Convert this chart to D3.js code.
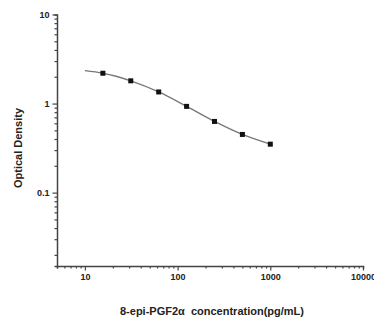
<!DOCTYPE html>
<html>
<head>
<meta charset="utf-8">
<script src="https://cdn.jsdelivr.net/npm/d3@7"></script>
<style>
  html, body { margin: 0; padding: 0; background: #fff; }
  svg { display: block; }
  text { font-family: "Liberation Sans", Arial, sans-serif; font-weight: bold; fill: #222; }
</style>
</head>
<body>
<svg id="chart" width="374" height="322"></svg>
<script>
// Standard concentrations (pg/mL) and measured optical densities
const concentrations = [15.63, 31.25, 62.5, 125, 250, 500, 1000];
const odValues = [2.19, 1.80, 1.35, 0.93, 0.63, 0.45, 0.35];

// Fitted standard curve, sampled at the same points plus the low end at 10 pg/mL
const fitX = [10, 15.63, 31.25, 62.5, 125, 250, 500, 1000];
const fitY = [2.34, 2.19, 1.80, 1.35, 0.93, 0.63, 0.45, 0.35];

const xTickLabels = ["10", "100", "1000", "10000"];
const yTickLabels = ["0.1", "1", "10"];

const svg = d3.select("#chart");
const plotLeft = 57, plotRight = 363, plotTop = 14.5, plotBottom = 266;

const x = d3.scaleLog().domain([5, 10000]).range([plotLeft, plotRight]);
const y = d3.scaleLog().domain([0.015, 10]).range([plotBottom, plotTop]);

const axisColor = "#444";
const isMajor = (v, labels) => labels.some(l => Math.abs(v / Number(l) - 1) < 1e-6);

// Minor tick values for each log axis
const xMinor = x.ticks().filter(v => !isMajor(v, xTickLabels));
const yMinor = y.ticks().filter(v => !isMajor(v, yTickLabels));

function styleAxis(g) {
  g.selectAll("path.domain").attr("stroke", axisColor).attr("stroke-width", 1.5);
  g.selectAll("line").attr("stroke", axisColor).attr("stroke-width", 1.2);
  g.selectAll("text").style("font-size", "9px")
    .style("font-family", "Liberation Sans, Arial, sans-serif")
    .style("font-weight", "bold").attr("fill", "#222");
}

// X axis
const gx = svg.append("g").attr("transform", `translate(0,${plotBottom})`);
gx.call(d3.axisBottom(x).tickValues(xMinor).tickSize(2.5).tickFormat(""));
const gxMajor = gx.append("g").call(d3.axisBottom(x).tickValues(xTickLabels.map(Number))
  .tickSize(4.5).tickFormat((d, i) => xTickLabels[i]).tickPadding(3));
gxMajor.select("path.domain").remove();
styleAxis(gx);

// Y axis
const gy = svg.append("g").attr("transform", `translate(${plotLeft},0)`);
gy.call(d3.axisLeft(y).tickValues(yMinor).tickSize(2.5).tickFormat(""));
const gyMajor = gy.append("g").call(d3.axisLeft(y).tickValues(yTickLabels.map(Number))
  .tickSize(4.5).tickFormat((d, i) => yTickLabels[i]).tickPadding(3));
gyMajor.select("path.domain").remove();
styleAxis(gy);

// Fitted curve
const line = d3.line()
  .x((d, i) => x(fitX[i]))
  .y(d => y(d))
  .curve(d3.curveMonotoneX);
svg.append("path")
  .datum(fitY)
  .attr("d", line)
  .attr("fill", "none")
  .attr("stroke", "#777")
  .attr("stroke-width", 1.3);

// Standard points
const s = 5;
svg.append("g").selectAll("rect")
  .data(odValues)
  .join("rect")
  .attr("x", (d, i) => x(concentrations[i]) - s / 2)
  .attr("y", d => y(d) - s / 2)
  .attr("width", s)
  .attr("height", s)
  .attr("fill", "#111");

// Axis titles
svg.append("text")
  .attr("transform", `translate(21.5,148) rotate(-90)`)
  .attr("text-anchor", "middle")
  .style("font-size", "11px")
  .text("Optical Density");

svg.append("text")
  .attr("x", 212)
  .attr("y", 315)
  .attr("text-anchor", "middle")
  .style("font-size", "11px")
  .attr("xml:space", "preserve")
  .text("8-epi-PGF2\u03b1  concentration(pg/mL)");
</script>
</body>
</html>
